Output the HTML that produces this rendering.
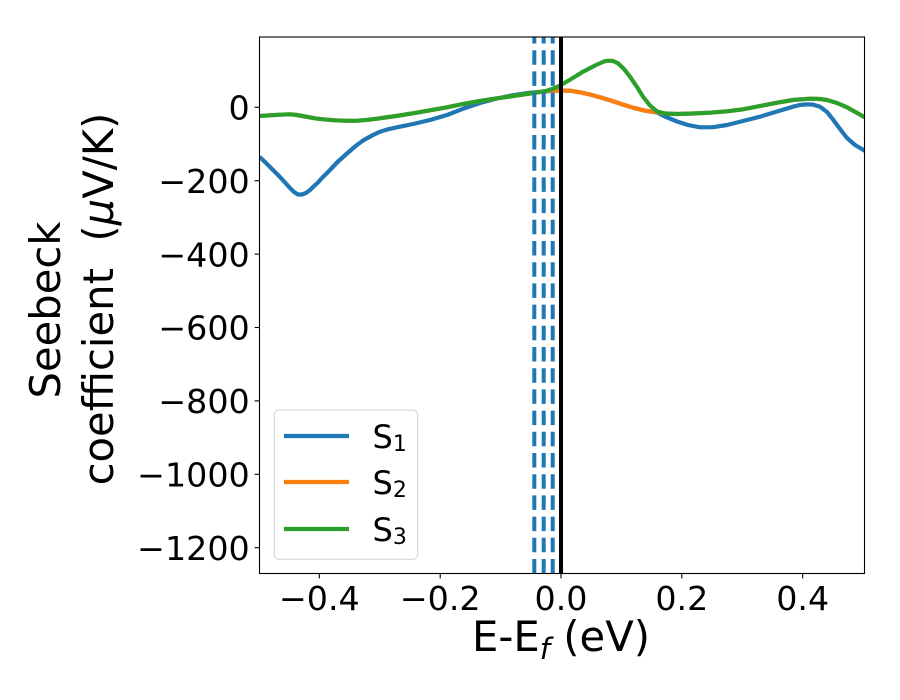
<!DOCTYPE html>
<html>
<head>
<meta charset="utf-8">
<style>
  html, body { margin: 0; padding: 0; background: #ffffff; }
  svg { display: block; }
  text { font-family: "DejaVu Sans", "Liberation Sans", sans-serif; fill: #000; }
</style>
</head>
<body>
<svg width="900" height="700" viewBox="0 0 900 700" xmlns="http://www.w3.org/2000/svg">
  <rect x="0" y="0" width="900" height="700" fill="#ffffff"/>
  <defs>
    <clipPath id="ax">
      <rect x="259.5" y="37" width="605" height="536.5"/>
    </clipPath>
  </defs>

  <g clip-path="url(#ax)" fill="none" stroke-width="4.2" stroke-linejoin="round">
    <!-- S1 blue -->
    <polyline stroke="#1f77b4" points="259.5,156.7 265,162 270,167 275,172 280,177 285,182.5 290,188 294,192 298,194.5 302,194.5 306,193 310,190 313,187 318,182.5 322,178 330,170 338,161.5 347,153.5 355,146.5 363,140.5 372,135.5 380,131.7 388,129.3 397,127.3 413,124 430,120 447,115 463,108.8 480,103 497,98.5 513,95.2 530,92.7 545,91.5 553,90.8 561,90.5 570,90.7 580,92.3 590,94.5 600,97.3 610,100.3 622,104.2 633,107.7 645,110.7 657,112.5 665,116.5 677,121.5 688,125 700,127.3 713,127.2 727,125 743,121 760,116.7 777,111.5 793,106.7 800,105 807,104.3 813,104.6 820,106.7 827,112 833,119.5 840,129 847,138 855,145 866,151.5"/>
    <!-- S2 orange -->
    <polyline stroke="#ff7f0e" points="258,116.1 270,115.3 280,114.7 290,114.3 297,115 305,116.5 315,118.3 323,119.3 335,120.3 347,120.8 357,120.7 368,119.8 380,118.3 396,116 413,113.3 430,110.3 447,107.3 463,104 480,101 497,98.3 513,96 530,93.5 545,91.2 553,90.8 561,90.5 570,90.7 580,92.3 590,94.5 600,97.3 610,100.3 622,104.2 633,107.7 645,110.7 657,112.3 665,113.5 677,114 693,113.5 710,112.7 727,111.3 743,109.3 760,106 777,102.7 793,100 810,98.7 820,99 827,100 837,103 847,107.3 856,112.3 866,118"/>
    <!-- S3 green -->
    <polyline stroke="#2ca02c" points="258,116.1 270,115.3 280,114.7 290,114.3 297,115 305,116.5 315,118.3 323,119.3 335,120.3 347,120.8 357,120.7 368,119.8 380,118.3 396,116 413,113.3 430,110.3 447,107.3 463,104 480,101 497,98.3 513,96 530,93.5 545,91.2 553,88.8 561,85 572,78.5 583,71.7 596,65 604,61.5 608,60.7 613,61 618,63.3 624,69 630,76.7 637,87 643,96.7 650,105.5 657,111.5 665,113.5 677,114 693,113.5 710,112.7 727,111.3 743,109.3 760,106 777,102.7 793,100 810,98.7 820,99 827,100 837,103 847,107.3 856,112.3 866,118"/>

    <!-- dashed vertical lines -->
    <line x1="534.3" y1="573.5" x2="534.3" y2="37" stroke="#1f77b4" stroke-width="4" stroke-dasharray="14.5 6.7"/>
    <line x1="543.7" y1="573.5" x2="543.7" y2="37" stroke="#1f77b4" stroke-width="4" stroke-dasharray="14.5 6.7"/>
    <line x1="552.7" y1="573.5" x2="552.7" y2="37" stroke="#1f77b4" stroke-width="4" stroke-dasharray="14.5 6.7"/>
    <!-- black line at 0 -->
    <line x1="561" y1="573.5" x2="561" y2="37" stroke="#000000" stroke-width="4"/>
  </g>

  <!-- axes frame -->
  <rect x="259.5" y="37" width="605" height="536.5" fill="none" stroke="#000" stroke-width="1.1"/>

  <!-- x ticks -->
  <g stroke="#000" stroke-width="1.1">
    <line x1="319.3" y1="573.5" x2="319.3" y2="578.4"/>
    <line x1="440.2" y1="573.5" x2="440.2" y2="578.4"/>
    <line x1="561" y1="573.5" x2="561" y2="578.4"/>
    <line x1="681.8" y1="573.5" x2="681.8" y2="578.4"/>
    <line x1="802.7" y1="573.5" x2="802.7" y2="578.4"/>
  </g>
  <g font-size="33.3" text-anchor="middle">
    <text x="319.3" y="610">−0.4</text>
    <text x="440.2" y="610">−0.2</text>
    <text x="561" y="610">0.0</text>
    <text x="681.8" y="610">0.2</text>
    <text x="802.7" y="610">0.4</text>
  </g>

  <!-- y ticks -->
  <g stroke="#000" stroke-width="1.1">
    <line x1="254.6" y1="107.3" x2="259.5" y2="107.3"/>
    <line x1="254.6" y1="180.7" x2="259.5" y2="180.7"/>
    <line x1="254.6" y1="254.1" x2="259.5" y2="254.1"/>
    <line x1="254.6" y1="327.5" x2="259.5" y2="327.5"/>
    <line x1="254.6" y1="400.9" x2="259.5" y2="400.9"/>
    <line x1="254.6" y1="474.3" x2="259.5" y2="474.3"/>
    <line x1="254.6" y1="547.7" x2="259.5" y2="547.7"/>
  </g>
  <g font-size="33.3" text-anchor="end">
    <text x="249.7" y="119.5">0</text>
    <text x="249.7" y="192.9">−200</text>
    <text x="249.7" y="266.3">−400</text>
    <text x="249.7" y="339.7">−600</text>
    <text x="249.7" y="413.1">−800</text>
    <text x="249.7" y="486.5">−1000</text>
    <text x="249.7" y="559.9">−1200</text>
  </g>

  <!-- x label -->
  <text x="561" y="651" font-size="41.7" text-anchor="middle" style="white-space:pre">E-E<tspan font-style="italic" font-size="29.2" dy="8">f</tspan><tspan dy="-8"> (eV)</tspan></text>

  <!-- y label -->
  <text transform="translate(60,310) rotate(-90)" font-size="41.7" text-anchor="middle">Seebeck</text>
  <text transform="translate(113,299) rotate(-90)" font-size="41.7" text-anchor="middle" style="white-space:pre">coefficient  (<tspan font-style="italic">μ</tspan>V/K)</text>

  <!-- legend -->
  <rect x="274.3" y="410" width="143.4" height="149.3" rx="5" ry="5" fill="#ffffff" fill-opacity="0.8" stroke="#d6d6d6" stroke-width="1.1"/>
  <line x1="284" y1="436" x2="349" y2="436" stroke="#1f77b4" stroke-width="4.2"/>
  <line x1="284" y1="482" x2="349" y2="482" stroke="#ff7f0e" stroke-width="4.2"/>
  <line x1="284" y1="529" x2="349" y2="529" stroke="#2ca02c" stroke-width="4.2"/>
  <g font-size="32">
    <text x="372.5" y="448">S<tspan font-size="22" dy="3">1</tspan></text>
    <text x="372.5" y="494">S<tspan font-size="22" dy="3">2</tspan></text>
    <text x="372.5" y="541">S<tspan font-size="22" dy="3">3</tspan></text>
  </g>
</svg>
</body>
</html>
